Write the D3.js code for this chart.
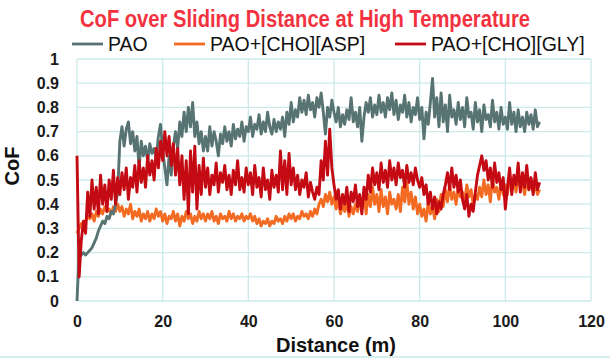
<!DOCTYPE html>
<html>
<head>
<meta charset="utf-8">
<script src="https://cdn.jsdelivr.net/npm/d3@7"></script>
<style>
  body { margin: 0; background: #fff; }
  svg { display: block; }
</style>
</head>
<body>
<svg id="chart" width="610" height="358"></svg>
<script>
// sampling step of the traces (m)
const distStep = 0.5;

const xTicks = [0, 20, 40, 60, 80, 100, 120];
const yTicks = [0, 0.1, 0.2, 0.3, 0.4, 0.5, 0.6, 0.7, 0.8, 0.9, 1];
const seriesNames = ["PAO", "PAO+[CHO][ASP]", "PAO+[CHO][GLY]"];

const pao = [
  0.00, 0.20, 0.19, 0.20, 0.19, 0.20, 0.21, 0.22, 0.24, 0.26, 0.29, 0.31, 0.33, 0.32, 0.35, 0.34, 0.37, 0.36, 0.40, 0.45,
  0.66, 0.72, 0.64, 0.71, 0.74, 0.65, 0.70, 0.62, 0.68, 0.55, 0.66, 0.60, 0.64, 0.58, 0.65, 0.61, 0.63, 0.59, 0.68, 0.73,
  0.62, 0.55, 0.48, 0.60, 0.52, 0.64, 0.70, 0.63, 0.74, 0.68, 0.78, 0.70, 0.80, 0.72, 0.82, 0.68, 0.74, 0.65, 0.70, 0.62,
  0.68, 0.62, 0.72, 0.64, 0.70, 0.66, 0.60, 0.69, 0.65, 0.72, 0.66, 0.70, 0.64, 0.73, 0.67, 0.71, 0.68, 0.74, 0.66, 0.72,
  0.70, 0.76, 0.68, 0.73, 0.71, 0.77, 0.69, 0.74, 0.70, 0.78, 0.72, 0.69, 0.75, 0.70, 0.74, 0.71, 0.76, 0.68, 0.78, 0.73,
  0.82, 0.74, 0.79, 0.76, 0.84, 0.78, 0.83, 0.77, 0.85, 0.79, 0.82, 0.76, 0.84, 0.80, 0.86, 0.78, 0.69, 0.80, 0.76, 0.83,
  0.78, 0.74, 0.80, 0.72, 0.77, 0.73, 0.79, 0.75, 0.84, 0.74, 0.78, 0.72, 0.80, 0.66, 0.76, 0.82, 0.78, 0.84, 0.76, 0.81,
  0.77, 0.85, 0.78, 0.82, 0.76, 0.84, 0.79, 0.86, 0.77, 0.83, 0.75, 0.81, 0.78, 0.85, 0.76, 0.82, 0.74, 0.80, 0.77, 0.84,
  0.75, 0.80, 0.67, 0.78, 0.73, 0.82, 0.92, 0.76, 0.84, 0.72, 0.86, 0.74, 0.81, 0.70, 0.85, 0.76, 0.79, 0.73, 0.82, 0.75,
  0.80, 0.72, 0.84, 0.76, 0.78, 0.71, 0.82, 0.74, 0.79, 0.70, 0.81, 0.75, 0.77, 0.72, 0.83, 0.74, 0.78, 0.71, 0.80, 0.73,
  0.76, 0.71, 0.82, 0.73, 0.78, 0.70, 0.79, 0.72, 0.76, 0.70, 0.78, 0.73, 0.77, 0.71, 0.79, 0.72, 0.74
];

const asp = [
  0.28, 0.30, 0.32, 0.31, 0.33, 0.35, 0.34, 0.36, 0.33, 0.37, 0.35, 0.38, 0.36, 0.39, 0.37, 0.38, 0.36, 0.39, 0.37, 0.40,
  0.37, 0.39, 0.35, 0.38, 0.36, 0.40, 0.34, 0.37, 0.35, 0.38, 0.33, 0.36, 0.34, 0.37, 0.33, 0.36, 0.34, 0.38, 0.35, 0.37,
  0.33, 0.36, 0.32, 0.35, 0.34, 0.37, 0.33, 0.36, 0.31, 0.35, 0.33, 0.37, 0.34, 0.36, 0.32, 0.35, 0.33, 0.37, 0.34, 0.36,
  0.33, 0.36, 0.34, 0.37, 0.33, 0.35, 0.32, 0.36, 0.34, 0.35, 0.33, 0.37, 0.34, 0.36, 0.33, 0.35, 0.34, 0.36, 0.33, 0.35,
  0.34, 0.36, 0.33, 0.35, 0.32, 0.34, 0.31, 0.33, 0.32, 0.34, 0.31, 0.33, 0.32, 0.35, 0.33, 0.34, 0.32, 0.35, 0.33, 0.36,
  0.34, 0.36, 0.33, 0.35, 0.34, 0.37, 0.35, 0.36, 0.34, 0.37, 0.35, 0.38, 0.36, 0.40, 0.42, 0.39, 0.44, 0.41, 0.45, 0.40,
  0.43, 0.38, 0.42, 0.36, 0.40, 0.37, 0.41, 0.35, 0.39, 0.36, 0.40, 0.37, 0.42, 0.38, 0.45, 0.36, 0.44, 0.39, 0.47, 0.40,
  0.44, 0.37, 0.46, 0.39, 0.43, 0.36, 0.45, 0.40, 0.42, 0.38, 0.44, 0.37, 0.47, 0.41, 0.49, 0.40, 0.45, 0.38, 0.43, 0.36,
  0.40, 0.35, 0.38, 0.33, 0.41, 0.36, 0.39, 0.34, 0.42, 0.37, 0.44, 0.39, 0.46, 0.41, 0.48, 0.42, 0.45, 0.40, 0.47, 0.43,
  0.45, 0.41, 0.48, 0.43, 0.46, 0.40, 0.44, 0.42, 0.47, 0.43, 0.50, 0.44, 0.48, 0.41, 0.51, 0.45, 0.47, 0.42, 0.49, 0.44,
  0.48, 0.44, 0.52, 0.46, 0.50, 0.45, 0.53, 0.47, 0.49, 0.44, 0.51, 0.46, 0.50, 0.45, 0.48, 0.44, 0.46
];

const gly = [
  0.60, 0.10, 0.25, 0.33, 0.28, 0.45, 0.35, 0.50, 0.38, 0.47, 0.36, 0.52, 0.40, 0.48, 0.37, 0.50, 0.42, 0.54, 0.40, 0.51,
  0.44, 0.53, 0.46, 0.55, 0.42, 0.51, 0.47, 0.56, 0.45, 0.58, 0.49, 0.55, 0.47, 0.60, 0.52, 0.58, 0.50, 0.63, 0.55, 0.66,
  0.58, 0.70, 0.60, 0.68, 0.56, 0.65, 0.52, 0.63, 0.48, 0.60, 0.42, 0.58, 0.36, 0.62, 0.45, 0.64, 0.38, 0.56, 0.44, 0.59,
  0.47, 0.55, 0.44, 0.52, 0.48, 0.57, 0.45, 0.53, 0.49, 0.56, 0.46, 0.52, 0.44, 0.54, 0.48, 0.58, 0.46, 0.51, 0.45, 0.55,
  0.48, 0.53, 0.44, 0.56, 0.47, 0.51, 0.43, 0.55, 0.46, 0.50, 0.42, 0.54, 0.47, 0.52, 0.45, 0.62, 0.46, 0.58, 0.44, 0.61,
  0.48, 0.55, 0.46, 0.52, 0.44, 0.50, 0.47, 0.53, 0.43, 0.49, 0.45, 0.42, 0.47, 0.44, 0.58, 0.50, 0.66, 0.52, 0.71, 0.55,
  0.48, 0.42, 0.46, 0.38, 0.44, 0.40, 0.47, 0.37, 0.45, 0.41, 0.48, 0.39, 0.44, 0.36, 0.47, 0.42, 0.52, 0.45, 0.55, 0.48,
  0.53, 0.46, 0.57, 0.49, 0.54, 0.47, 0.58, 0.50, 0.55, 0.48, 0.57, 0.51, 0.54, 0.47, 0.56, 0.49, 0.53, 0.48, 0.55, 0.50,
  0.47, 0.51, 0.44, 0.48, 0.40, 0.45, 0.38, 0.43, 0.36, 0.41, 0.38, 0.44, 0.48, 0.53, 0.46, 0.55, 0.47, 0.52, 0.45, 0.50,
  0.42, 0.38, 0.44, 0.35, 0.40, 0.37, 0.45, 0.52, 0.56, 0.60, 0.54, 0.58, 0.50, 0.55, 0.47, 0.57, 0.49, 0.53, 0.46, 0.51,
  0.38, 0.47, 0.55, 0.44, 0.52, 0.48, 0.57, 0.45, 0.53, 0.47, 0.56, 0.46, 0.51, 0.44, 0.53, 0.46, 0.49
];

const colors = ["#587472", "#f36a22", "#c40a12"];

const svg = d3.select("#chart");
const margin = { left: 77, right: 19, top: 59, bottom: 57 };
const W = 610, H = 358;

const x = d3.scaleLinear().domain([0, 120]).range([margin.left, W - margin.right]);
const y = d3.scaleLinear().domain([0, 1]).range([H - margin.bottom, margin.top]);

const gridColor = "#cbeaea";

// grid
svg.append("g").selectAll("line.h")
  .data(yTicks)
  .enter().append("line")
  .attr("x1", x(0)).attr("x2", x(120))
  .attr("y1", d => y(d)).attr("y2", d => y(d))
  .attr("stroke", gridColor).attr("stroke-width", 1.3);

svg.append("g").selectAll("line.v")
  .data(xTicks)
  .enter().append("line")
  .attr("x1", d => x(d)).attr("x2", d => x(d))
  .attr("y1", y(0)).attr("y2", y(1))
  .attr("stroke", gridColor).attr("stroke-width", 1.3);

// bottom frame line of the chart area
svg.append("line")
  .attr("x1", 0).attr("x2", W).attr("y1", H - 1).attr("y2", H - 1)
  .attr("stroke", "#d6eeee").attr("stroke-width", 2);

// axes (labels only)
const xAxis = svg.append("g")
  .attr("transform", `translate(0,${y(0) + 12})`)
  .call(d3.axisBottom(x).tickValues(xTicks).tickSize(0).tickFormat(d3.format("d")));
xAxis.select(".domain").remove();
xAxis.selectAll("text")
  .attr("font-family", "Arial, 'Liberation Sans', sans-serif")
  .attr("font-weight", "bold").attr("font-size", 16).attr("fill", "#1a1a1a");

const yAxis = svg.append("g")
  .attr("transform", `translate(${x(0) - 15},0)`)
  .call(d3.axisLeft(y).tickValues(yTicks).tickSize(0).tickFormat(d => d === 0 || d === 1 ? d : d.toFixed(1)));
yAxis.select(".domain").remove();
yAxis.selectAll("text")
  .attr("font-family", "Arial, 'Liberation Sans', sans-serif")
  .attr("font-weight", "bold").attr("font-size", 16).attr("fill", "#1a1a1a");

// lines
const line = d3.line()
  .x((d, i) => x(i * distStep))
  .y(d => y(d));

const drawOrder = [1, 0, 2];
const allSeries = [pao, asp, gly];
drawOrder.forEach(k => {
  svg.append("path")
    .datum(allSeries[k])
    .attr("fill", "none")
    .attr("stroke", colors[k])
    .attr("stroke-width", 2.9)
    .attr("stroke-linejoin", "round")
    .attr("d", line);
});

// title
svg.append("text")
  .attr("x", 305).attr("y", 27)
  .attr("text-anchor", "middle")
  .attr("font-family", "'Liberation Sans Narrow', 'Arial Narrow', sans-serif")
  .attr("font-weight", "bold").attr("font-size", 23)
  .attr("fill", "#f2323f")
  .attr("textLength", 450).attr("lengthAdjust", "spacingAndGlyphs")
  .text("CoF over Sliding Distance at High Temperature");

// legend
const legendX = [72, 174, 395];
const legend = svg.append("g").selectAll("g")
  .data(seriesNames)
  .enter().append("g")
  .attr("transform", (d, i) => `translate(${legendX[i]},44)`);
legend.append("line")
  .attr("x1", 0).attr("x2", 31).attr("y1", 0).attr("y2", 0)
  .attr("stroke", (d, i) => colors[i]).attr("stroke-width", 2.8);
legend.append("text")
  .attr("x", 36).attr("y", 7)
  .attr("font-family", "Arial, 'Liberation Sans', sans-serif")
  .attr("font-size", 19.5).attr("fill", "#111")
  .text(d => d);

// axis titles
svg.append("text")
  .attr("x", 336).attr("y", 352)
  .attr("text-anchor", "middle")
  .attr("font-family", "Arial, 'Liberation Sans', sans-serif")
  .attr("font-weight", "bold").attr("font-size", 20).attr("fill", "#111")
  .text("Distance (m)");

svg.append("text")
  .attr("transform", "translate(19,166) rotate(-90)")
  .attr("text-anchor", "middle")
  .attr("font-family", "Arial, 'Liberation Sans', sans-serif")
  .attr("font-weight", "bold").attr("font-size", 20).attr("fill", "#111")
  .text("CoF");
</script>
</body>
</html>
